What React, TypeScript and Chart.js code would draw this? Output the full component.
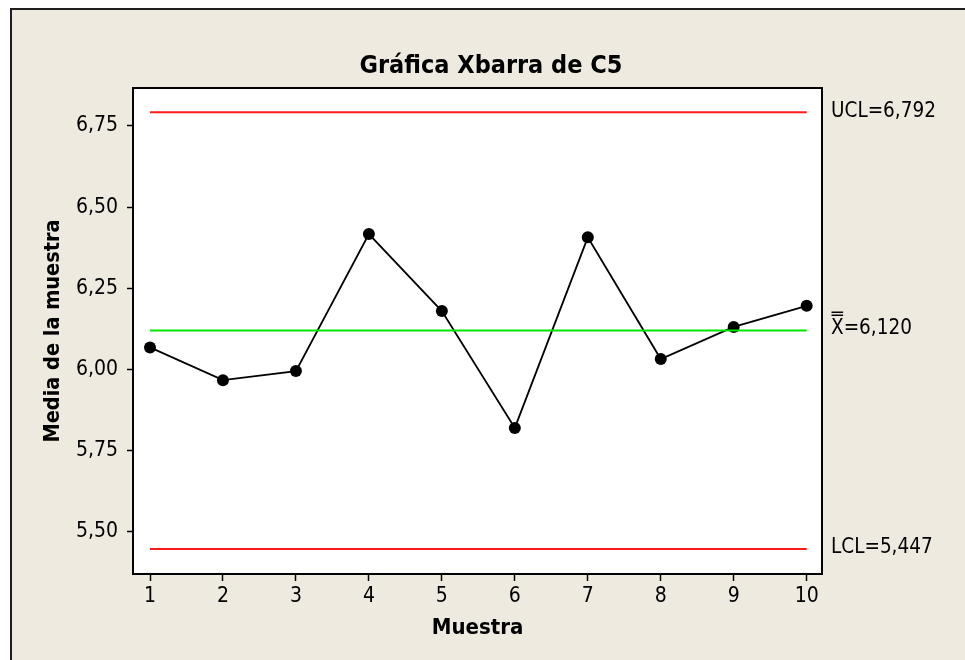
import React, { useEffect, useRef } from "react";
import { Chart, registerables } from "chart.js";

Chart.register(...registerables);

const samples = [1, 2, 3, 4, 5, 6, 7, 8, 9, 10];
const means = [6.068, 5.967, 5.995, 6.417, 6.18, 5.82, 6.407, 6.032, 6.131, 6.196];
const UCL = 6.792;
const CENTER = 6.12;
const LCL = 5.447;
const yTicks = [5.5, 5.75, 6.0, 6.25, 6.5, 6.75];
const xTicks = samples;
const limitLabels = ["UCL=6,792", "X=6,120", "LCL=5,447"];
const limitValues = [UCL, CENTER, LCL];
const titleText = "Gráfica Xbarra de C5";
const xTitle = "Muestra";
const yTitle = "Media de la muestra";

const FONT = '"DejaVu Sans Condensed", "DejaVu Sans", sans-serif';

const decorPlugin = {
  id: "decor",
  beforeDraw(chart: any) {
    const { ctx, chartArea } = chart;
    ctx.save();
    ctx.fillStyle = "#ffffff";
    ctx.fillRect(chartArea.left, chartArea.top, chartArea.right - chartArea.left, chartArea.bottom - chartArea.top);
    ctx.restore();
  },
  afterDraw(chart: any) {
    const { ctx, chartArea } = chart;
    const y = chart.scales.y;
    ctx.save();
    ctx.strokeStyle = "#000000";
    ctx.lineWidth = 2;
    ctx.strokeRect(chartArea.left, chartArea.top, chartArea.right - chartArea.left, chartArea.bottom - chartArea.top);

    ctx.fillStyle = "#000000";
    // title
    ctx.font = `bold 25px ${FONT}`;
    ctx.textAlign = "center";
    ctx.textBaseline = "alphabetic";
    ctx.fillText(titleText, 491, 73);
    // x title
    ctx.font = `bold 22px ${FONT}`;
    ctx.fillText(xTitle, (chartArea.left + chartArea.right) / 2, 634);
    // y title
    ctx.save();
    ctx.translate(59, (chartArea.top + chartArea.bottom) / 2);
    ctx.rotate(-Math.PI / 2);
    ctx.font = `bold 21.5px ${FONT}`;
    ctx.fillText(yTitle, 0, 0);
    ctx.restore();

    // limit labels
    ctx.font = `20.5px ${FONT}`;
    ctx.textAlign = "left";
    ctx.textBaseline = "middle";
    limitLabels.forEach((txt, i) => {
      const py = y.getPixelForValue(limitValues[i]) + (i === 1 ? -2 : -1);
      const px = chartArea.right + 9;
      ctx.fillText(txt, px, py);
      if (i === 1) {
        const w = ctx.measureText("X").width;
        ctx.fillRect(px + 0.5, py - 17, w - 1, 1.5);
        ctx.fillRect(px + 0.5, py - 14, w - 1, 1.5);
      }
    });
    ctx.restore();
  },
};

export default function App() {
  const ref = useRef<HTMLCanvasElement>(null);
  useEffect(() => {
    if (!ref.current) return;
    const line = (v: number) => [
      { x: xTicks[0], y: v },
      { x: xTicks[xTicks.length - 1], y: v },
    ];
    const chart = new Chart(ref.current, {
      type: "line",
      data: {
        datasets: [
          { data: line(UCL), borderColor: "#ff1a1a", borderWidth: 2, pointRadius: 0, fill: false },
          { data: line(LCL), borderColor: "#ff1a1a", borderWidth: 2, pointRadius: 0, fill: false },
          { data: line(CENTER), borderColor: "#00e600", borderWidth: 2, pointRadius: 0, fill: false },
          {
            data: samples.map((s, i) => ({ x: s, y: means[i] })),
            borderColor: "#000000",
            borderWidth: 1.8,
            pointRadius: 6,
            pointBackgroundColor: "#000000",
            pointBorderColor: "#000000",
            pointBorderWidth: 0,
            fill: false,
            tension: 0,
          },
        ],
      },
      options: {
        animation: false,
        responsive: false,
        events: [],
        layout: { padding: { top: 88, right: 143, bottom: 0, left: 0 } },
        plugins: { legend: { display: false }, tooltip: { enabled: false }, title: { display: false } },
        scales: {
          x: {
            type: "linear",
            min: 0.767,
            max: 10.21,
            afterFit: (s: any) => {
              s.height = 86;
            },
            afterBuildTicks: (s: any) => {
              s.ticks = xTicks.map((v) => ({ value: v }));
            },
            border: { display: false },
            grid: { drawOnChartArea: false, drawTicks: true, tickLength: 7, tickColor: "#000000", tickWidth: 1.5 },
            ticks: {
              color: "#000000",
              font: { family: FONT, size: 21 },
              padding: 3,
              maxRotation: 0,
              autoSkip: false,
              callback: (v: any) => String(v),
            },
          },
          y: {
            type: "linear",
            min: 5.37,
            max: 6.867,
            afterFit: (s: any) => {
              s.width = 133;
            },
            afterBuildTicks: (s: any) => {
              s.ticks = yTicks.map((v) => ({ value: v }));
            },
            border: { display: false },
            grid: { drawOnChartArea: false, drawTicks: true, tickLength: 6, tickColor: "#000000", tickWidth: 1.5 },
            ticks: {
              color: "#000000",
              font: { family: FONT, size: 21 },
              padding: 9,
              autoSkip: false,
              callback: (v: any) => Number(v).toFixed(2).replace(".", ","),
            },
          },
        },
      },
      plugins: [decorPlugin],
    });
    return () => chart.destroy();
  }, []);

  return (
    <div style={{ position: "fixed", left: 0, top: 0, width: 965, height: 660, background: "#ffffff", overflow: "hidden" }}>
      <div
        style={{
          position: "absolute",
          left: 10,
          top: 8,
          width: 1000,
          height: 700,
          background: "#eeeae0",
          border: "2px solid #1e1e1e",
        }}
      />
      <canvas ref={ref} width={965} height={660} style={{ position: "absolute", left: 0, top: 0 }} />
    </div>
  );
}
